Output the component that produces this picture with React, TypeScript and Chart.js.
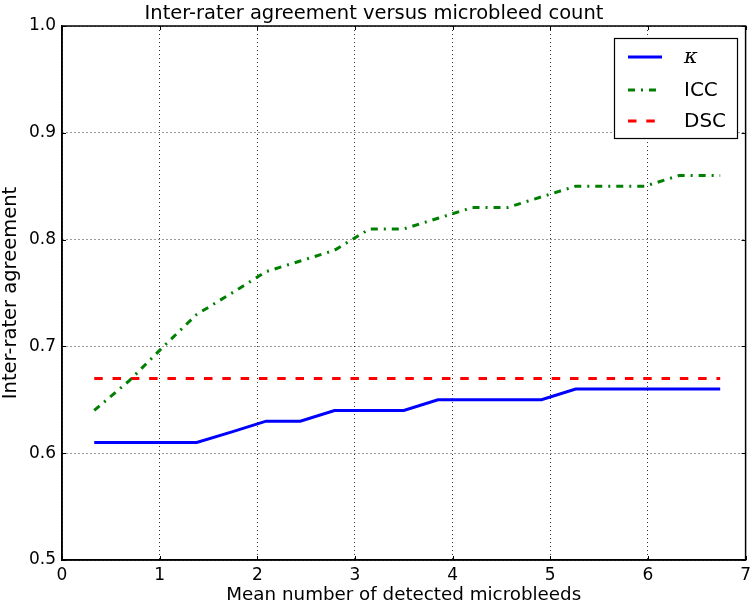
import React, { useEffect, useRef } from "react";
import { Chart, registerables } from "chart.js";

Chart.register(...registerables);

const xValues = [0.33, 0.69, 1.04, 1.38, 1.74, 2.09, 2.44, 2.79, 3.15, 3.5, 3.85, 4.2, 4.56, 4.91, 5.26, 5.61, 5.97, 6.32, 6.74];
const kappaValues = [0.61, 0.61, 0.61, 0.61, 0.62, 0.63, 0.63, 0.64, 0.64, 0.64, 0.65, 0.65, 0.65, 0.65, 0.66, 0.66, 0.66, 0.66, 0.66];
const iccValues = [0.64, 0.668, 0.70, 0.73, 0.75, 0.77, 0.78, 0.79, 0.81, 0.81, 0.82, 0.83, 0.83, 0.84, 0.85, 0.85, 0.85, 0.86, 0.86];
const dscValues = [0.67, 0.67, 0.67, 0.67, 0.67, 0.67, 0.67, 0.67, 0.67, 0.67, 0.67, 0.67, 0.67, 0.67, 0.67, 0.67, 0.67, 0.67, 0.67];
const seriesLabels = ["κ", "ICC", "DSC"];
const xTicks = [0, 1, 2, 3, 4, 5, 6, 7];
const yTicks = [0.5, 0.6, 0.7, 0.8, 0.9, 1.0];

const FONT = "'DejaVu Sans', sans-serif";
const BLUE = "#0000ff";
const GREEN = "#008000";
const RED = "#ff0000";
const DASHDOT = [7, 6, 2, 6];
const DASHED = [8.5, 9.8];

const framePlugin = {
  id: "frameAndLegend",
  afterDatasetsDraw(chart: any) {
    const { ctx, chartArea } = chart;
    const { left, right, top, bottom } = chartArea;
    const xs = chart.scales.x;
    const ys = chart.scales.y;
    ctx.save();
    ctx.strokeStyle = "#000";
    ctx.lineWidth = 1;
    ctx.setLineDash([]);
    const tl = 4;
    ctx.beginPath();
    xTicks.forEach((v) => {
      const px = Math.round(xs.getPixelForValue(v)) + 0.5;
      ctx.moveTo(px, bottom);
      ctx.lineTo(px, bottom - tl);
      ctx.moveTo(px, top);
      ctx.lineTo(px, top + tl);
    });
    yTicks.forEach((v) => {
      const py = Math.round(ys.getPixelForValue(v)) + 0.5;
      ctx.moveTo(left, py);
      ctx.lineTo(left + tl, py);
      ctx.moveTo(right, py);
      ctx.lineTo(right - tl, py);
    });
    ctx.stroke();
    ctx.lineWidth = 1.5;
    ctx.strokeRect(left, top, right - left, bottom - top);

    const bx = 614, by = 38, bw = 123, bh = 100;
    ctx.fillStyle = "#fff";
    ctx.fillRect(bx, by, bw, bh);
    ctx.lineWidth = 1.2;
    ctx.strokeStyle = "#000";
    ctx.strokeRect(bx + 0.5, by + 0.5, bw, bh);
    const rows = [
      { y: 57, color: BLUE, dash: [] as number[], label: seriesLabels[0], font: "italic 21px 'DejaVu Serif', serif" },
      { y: 90, color: GREEN, dash: DASHDOT, label: seriesLabels[1], font: "20px " + FONT },
      { y: 121, color: RED, dash: DASHED, label: seriesLabels[2], font: "20px " + FONT },
    ];
    rows.forEach((r) => {
      ctx.beginPath();
      ctx.strokeStyle = r.color;
      ctx.lineWidth = 3;
      ctx.setLineDash(r.dash);
      ctx.moveTo(628, r.y);
      ctx.lineTo(662, r.y);
      ctx.stroke();
      ctx.setLineDash([]);
      ctx.fillStyle = "#000";
      ctx.font = r.font;
      ctx.textBaseline = "middle";
      ctx.textAlign = "left";
      ctx.fillText(r.label, 684, r.y + 1);
    });
    ctx.restore();
  },
};

export default function App() {
  const ref = useRef<HTMLCanvasElement | null>(null);
  useEffect(() => {
    document.body.style.margin = "0";
    const canvas = ref.current;
    if (!canvas) return;
    const mk = (vals: number[]) => xValues.map((x, i) => ({ x, y: vals[i] }));
    const chart = new Chart(canvas, {
      type: "line",
      data: {
        datasets: [
          { label: seriesLabels[0], data: mk(kappaValues), borderColor: BLUE, borderWidth: 3, pointRadius: 0, fill: false, tension: 0 },
          { label: seriesLabels[1], data: mk(iccValues), borderColor: GREEN, borderWidth: 3, borderDash: DASHDOT, pointRadius: 0, fill: false, tension: 0 },
          { label: seriesLabels[2], data: mk(dscValues), borderColor: RED, borderWidth: 3, borderDash: DASHED, pointRadius: 0, fill: false, tension: 0 },
        ],
      },
      options: {
        animation: false,
        responsive: false,
        maintainAspectRatio: false,
        layout: { padding: { left: 0, right: 8, top: 0, bottom: 0 } },
        plugins: {
          legend: { display: false },
          tooltip: { enabled: false },
          title: {
            display: true,
            text: "Inter-rater agreement versus microbleed count",
            color: "#000",
            font: { family: FONT, size: 19.5, weight: "normal", lineHeight: 1 },
            padding: { top: 4, bottom: 2.5 },
          },
        },
        scales: {
          x: {
            type: "linear",
            min: 0,
            max: 7,
            afterBuildTicks: (s: any) => { s.ticks = xTicks.map((v) => ({ value: v })); },
            afterFit: (s: any) => { s.height = 45; },
            ticks: { color: "#000", font: { family: FONT, size: 17 }, padding: 5, maxRotation: 0, callback: (v: any) => String(v) },
            grid: { color: "#000", lineWidth: 0.8, drawTicks: false } as any,
            border: { display: true, color: "#000", width: 1.5, dash: [1, 3] } as any,
            title: { display: true, text: "Mean number of detected microbleeds", color: "#000", font: { family: FONT, size: 18.3, lineHeight: 1 }, padding: { top: 0, bottom: 1 } },
          },
          y: {
            type: "linear",
            min: 0.5,
            max: 1.0,
            afterBuildTicks: (s: any) => { s.ticks = yTicks.map((v) => ({ value: v })); },
            afterFit: (s: any) => { s.width = 62; },
            ticks: { color: "#000", font: { family: FONT, size: 17 }, padding: 6, callback: (v: any) => Number(v).toFixed(1) },
            grid: { color: "#000", lineWidth: 0.8, drawTicks: false } as any,
            border: { display: true, color: "#000", width: 1.5, dash: [1, 3] } as any,
            title: { display: true, text: "Inter-rater agreement", color: "#000", font: { family: FONT, size: 19.5, lineHeight: 1 }, padding: { top: 1, bottom: 0 } },
          },
        },
      },
      plugins: [framePlugin],
    });
    return () => chart.destroy();
  }, []);
  return (
    <div style={{ width: 756, height: 605 }}>
      <canvas ref={ref} width={756} height={605} style={{ display: "block", width: 756, height: 605 }} />
    </div>
  );
}
